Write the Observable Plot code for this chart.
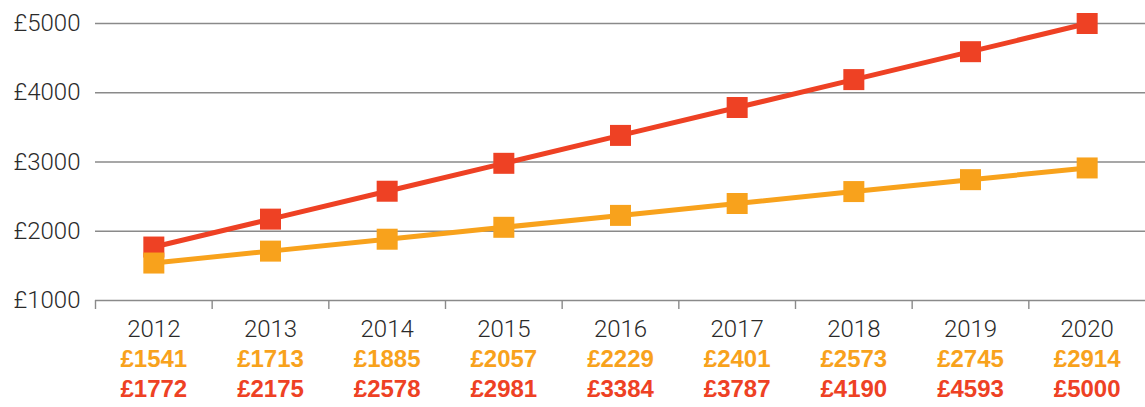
<!DOCTYPE html>
<html><head><meta charset="utf-8">
<script src="https://cdn.jsdelivr.net/npm/d3@7"></script>
<script src="https://cdn.jsdelivr.net/npm/@observablehq/plot@0.6"></script>
<style>body{margin:0;background:#fff} #chart svg{overflow:visible;display:block}</style>
</head><body><div id="chart"></div>
<script>
const years = [2012, 2013, 2014, 2015, 2016, 2017, 2018, 2019, 2020];
const orangeValues = [1541, 1713, 1885, 2057, 2229, 2401, 2573, 2745, 2914];
const redValues = [1772, 2175, 2578, 2981, 3384, 3787, 4190, 4593, 5000];
const yTicks = [1000, 2000, 3000, 4000, 5000];
const ORANGE = "#F8A21C";
const RED = "#EE4124";
const GRID = "#8a8a8a";

const rows = years.map((y, i) => ({year: y, orange: orangeValues[i], red: redValues[i]}));
const bounds = years.map(y => y - 0.5);
const money = d => "£" + d;

const chart = Plot.plot({
  width: 1145, height: 407,
  marginLeft: 95, marginRight: 0, marginTop: 23, marginBottom: 107,
  style: {fontFamily: "Roboto, 'Liberation Sans', sans-serif", background: "#fff"},
  x: {type: "linear", domain: [2011.5, 2020.5], axis: null},
  y: {domain: [1000, 5000], axis: null},
  marks: [
    Plot.ruleY(yTicks, {stroke: GRID, strokeWidth: 1.4}),
    Plot.axisX({ticks: bounds, tickSize: 9, tickFormat: () => "", label: null, stroke: GRID, strokeWidth: 1.4}),
    Plot.axisY({ticks: yTicks, tickSize: 0, tickPadding: 15, tickFormat: money, label: null,
      fontSize: 24, fontWeight: 300, fill: "#2a2a2a"}),
    Plot.line(rows, {x: "year", y: "red", stroke: RED, strokeWidth: 5}),
    Plot.dot(rows, {x: "year", y: "red", symbol: "square", r: 11.85, fill: RED}),
    Plot.line(rows, {x: "year", y: "orange", stroke: ORANGE, strokeWidth: 5}),
    Plot.dot(rows, {x: "year", y: "orange", symbol: "square", r: 11.85, fill: ORANGE}),
    Plot.text(rows, {x: "year", text: d => String(d.year), frameAnchor: "bottom", dy: 36,
      fontSize: 24, fontWeight: 300, fill: "#2a2a2a"}),
    Plot.text(rows, {x: "year", text: d => money(d.orange), frameAnchor: "bottom", dy: 66,
      fontSize: 24, fontWeight: 700, fill: ORANGE, fontFamily: "'Liberation Sans', sans-serif"}),
    Plot.text(rows, {x: "year", text: d => money(d.red), frameAnchor: "bottom", dy: 96,
      fontSize: 24, fontWeight: 700, fill: RED, fontFamily: "'Liberation Sans', sans-serif"})
  ]
});
document.getElementById("chart").appendChild(chart);
</script>
</body></html>
